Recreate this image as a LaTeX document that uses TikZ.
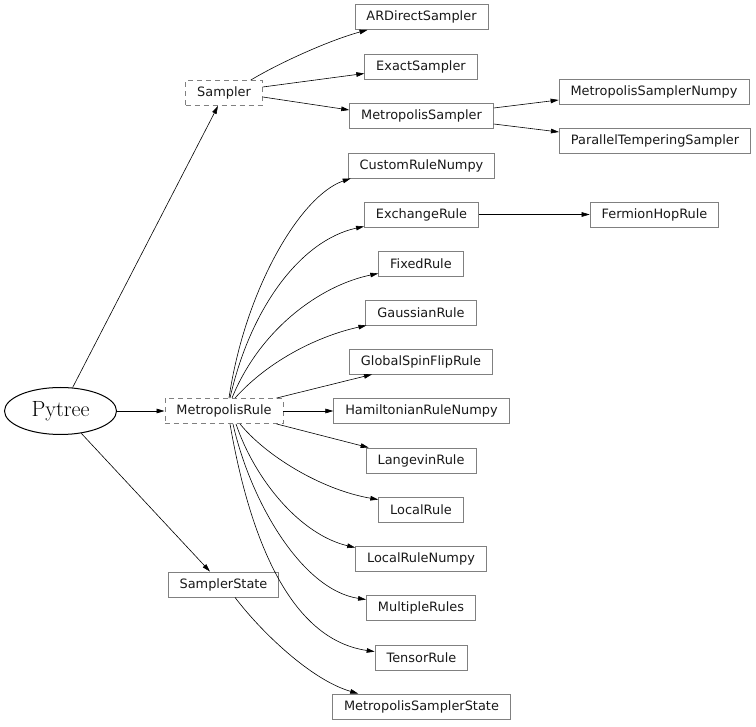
\documentclass[tikz,border=0pt]{standalone}
\usepackage{fontspec}
\newfontfamily\dejavu{DejaVu Sans}
\usetikzlibrary{arrows.meta,calc,shapes.geometric}
\begin{document}
\begin{tikzpicture}[x=1pt,y=-1pt,
  cls/.style={draw=gray, line width=0.85pt, minimum height=25pt, inner xsep=11.5pt, inner ysep=0pt,
    font=\dejavu\fontsize{12.9}{15}\selectfont, text=black!90},
  abstr/.style={cls, dashed, dash pattern=on 5pt off 4pt},
  edge/.style={draw=black, line width=0.6pt, -{Triangle[length=8pt,width=4.6pt]}}
]
\useasboundingbox (0,0) rectangle (756,727);
% root
\node[ellipse, draw=black, line width=1pt, minimum width=112pt, minimum height=47pt, inner sep=0pt,
  font=\fontsize{22}{26}\selectfont] (py) at (60.5,411) {Pytree};
% column 1
\node[abstr] (smp) at (224,93) {Sampler};
\node[abstr] (mr) at (224,411) {MetropolisRule};
\node[cls] (ss) at (223.5,584.5) {SamplerState};
% column 2
\node[cls] (ard) at (421.5,17) {ARDirectSampler};
\node[cls] (ex) at (421,66.5) {ExactSampler};
\node[cls] (ms) at (421.5,115.5) {MetropolisSampler};
\node[cls] (crn) at (421.5,165.5) {CustomRuleNumpy};
\node[cls] (er) at (421.5,214.5) {ExchangeRule};
\node[cls] (fr) at (421,263.5) {FixedRule};
\node[cls] (gr) at (421,312.5) {GaussianRule};
\node[cls] (gsf) at (421,361.5) {GlobalSpinFlipRule};
\node[cls] (hrn) at (421.5,411) {HamiltonianRuleNumpy};
\node[cls] (lr) at (421,460.5) {LangevinRule};
\node[cls] (loc) at (421,509.5) {LocalRule};
\node[cls] (lrn) at (421,558.5) {LocalRuleNumpy};
\node[cls] (mul) at (421,607.5) {MultipleRules};
\node[cls] (tr) at (421.5,657.5) {TensorRule};
\node[cls] (mss) at (421.5,706.5) {MetropolisSamplerState};
% column 3
\node[cls] (msn) at (654,91.5) {MetropolisSamplerNumpy};
\node[cls] (pts) at (655,140.5) {ParallelTemperingSampler};
\node[cls] (fhr) at (654.5,214.5) {FermionHopRule};
% edges from Pytree
\draw[edge] (py) -- ($(smp.south)+(-6,0)$);
\draw[edge] (py) -- (mr);
\draw[edge] (py) -- ($(ss.north)+(-13.5,0)$);
% Sampler edges
\draw[edge] ($(smp.north east)+(-12,0)$) .. controls +(30,-18) and +(-37,10) .. ($(ard.south west)+(13,0)$);
\draw[edge] ($(smp.east)+(0,-6)$) -- ($(ex.west)+(0,7)$);
\draw[edge] ($(smp.east)+(0,4)$) -- ($(ms.west)+(0,-5.5)$);
\draw[edge] ($(ms.east)+(0,-7.5)$) -- ($(msn.west)+(0,8.5)$);
\draw[edge] ($(ms.east)+(0,8.5)$) -- ($(pts.west)+(0,-8.5)$);
% MetropolisRule edges
\draw[edge] ($(mr.north)+(5,0)$) .. controls +(16,-109) and +(-50,17) .. ($(crn.south west)+(3,0)$);
\draw[edge] ($(mr.north)+(6,0)$) .. controls +(20,-89) and +(-64,14) .. ($(er.south west)+(0,-1)$);
\draw[edge] ($(mr.north)+(8,0)$) .. controls +(28,-69) and +(-58,12) .. ($(fr.south west)+(0,-3)$);
\draw[edge] ($(mr.north)+(11,0)$) .. controls +(35,-39) and +(-46,10) .. ($(gr.south west)+(1,0)$);
\draw[edge] ($(mr.north east)+(-7,0)$) -- ($(gsf.south west)+(23,0)$);
\draw[edge] (mr) -- (hrn);
\draw[edge] ($(mr.south east)+(-7,0)$) -- ($(lr.north west)+(3,0)$);
\draw[edge] ($(mr.south)+(16,0)$) .. controls +(25,31) and +(-58,-10) .. ($(loc.north west)+(0,3)$);
\draw[edge] ($(mr.south)+(12,0)$) .. controls +(19,56) and +(-55,-13) .. ($(lrn.north west)+(0,2)$);
\draw[edge] ($(mr.south)+(9,0)$) .. controls +(17,76) and +(-65,-10) .. ($(mul.north west)+(0,5)$);
\draw[edge] ($(mr.south)+(6,0)$) .. controls +(20,116) and +(-84,-12) .. ($(tr.north west)+(0,7)$);
% other edges
\draw[edge] (er) -- (fhr);
\draw[edge] ($(ss.south)+(11.5,0)$) .. controls +(25,33) and +(-48,-14) .. ($(mss.north west)+(26,0)$);
\end{tikzpicture}
\end{document}
